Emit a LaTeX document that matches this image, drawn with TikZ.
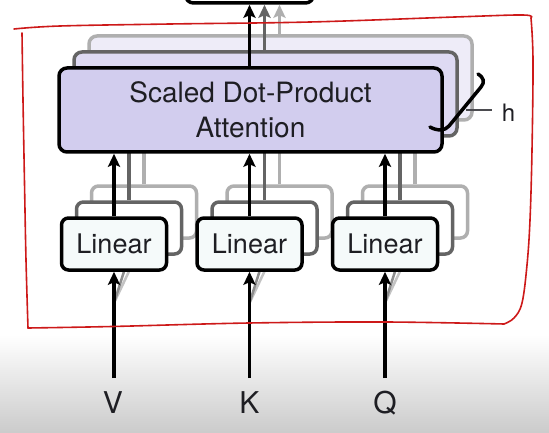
\documentclass[tikz,border=0pt]{standalone}
\usepackage{fontspec}
\setmainfont{TeX Gyre Heros}
\usetikzlibrary{arrows.meta,calc}
\definecolor{lav}{RGB}{210,205,238}
\definecolor{lavA}{RGB}{222,218,243}
\definecolor{lavB}{RGB}{238,236,248}
\definecolor{shA}{RGB}{100,100,100}
\definecolor{shB}{RGB}{175,175,175}
\definecolor{diagA}{RGB}{140,140,140}
\definecolor{diagB}{RGB}{195,195,195}
\definecolor{linfill}{RGB}{245,250,250}
\definecolor{redpen}{RGB}{205,25,25}
\definecolor{ink}{RGB}{30,30,35}
\definecolor{bggray}{RGB}{203,203,203}
\begin{document}
\begin{tikzpicture}[x=1pt,y=-1pt,
  box/.style={draw, line width=3.5pt, inner sep=0pt, text=ink},
  attbox/.style={box, rounded corners=8pt, minimum width=383pt, minimum height=84pt,
     align=center, font=\fontsize{28pt}{35pt}\selectfont},
  linbox/.style={box, rounded corners=7pt, minimum width=105pt, minimum height=52pt,
     font=\fontsize{27pt}{32pt}\selectfont},
  arr/.style={line width=3.5pt, -{Stealth[length=13pt,width=12pt,inset=2.5pt]}},
  lbl/.style={anchor=base, inner sep=0pt, text=ink, font=\fontsize{30pt}{36pt}\selectfont},
  pen/.style={redpen, line width=1.6pt, line cap=round, line join=round}]
\useasboundingbox (0,0) rectangle (549,433);
\fill[white] (0,0) rectangle (549,433);
\shade[top color=white, bottom color=bggray] (0,335) rectangle (549,433);

% output box (cut off at top)
\node[box, rounded corners=8pt, fill=white, minimum width=128pt, minimum height=40pt] (out) at (249.5,-17) {};

% input split points
\coordinate (vs) at (114,303);
\coordinate (ks) at (249.5,303);
\coordinate (qs) at (385,303);

% shadow layers (heads)
\foreach \k/\sc/\af/\dc in {2/shB/lavB/diagB,1/shA/lavA/diagA}{
  \node[attbox, draw=\sc, fill=\af] (att\k) at (250.5+15*\k, 110-16*\k) {};
  \foreach \n/\x in {v/114,k/249.5,q/385}{
    \node[linbox, draw=\sc, fill=white] (l\n\k) at (\x+15*\k, 244-16*\k) {};
  }
  \foreach \n in {v,k,q}{
    \draw[line width=2.5pt, \dc] (\n s) -- (l\n\k.south);
    \draw[arr, \sc] (l\n\k.north) -- (l\n\k.north |- att\k.south);
  }
  \draw[arr, \sc] (lk\k.north |- att\k.north) -- (lk\k.north |- out.south);
}

% main layer
\node[attbox, fill=lav] (att0) at (250.5,110) {Scaled Dot-Product\\Attention};
\node[linbox, fill=linfill] (lv0) at (114,244) {Linear};
\node[linbox, fill=linfill] (lk0) at (249.5,244) {Linear};
\node[linbox, fill=linfill] (lq0) at (385,244) {Linear};

\draw[arr] (lv0.north) -- (lv0.north |- att0.south);
\draw[arr] (lk0.north) -- (lk0.north |- att0.south);
\draw[arr] (lq0.north) -- (lq0.north |- att0.south);
\draw[arr] (lk0.north |- att0.north) -- (out.south);

% inputs
\node[lbl] (V) at (113,413) {V};
\node[lbl] (K) at (249.5,413) {K};
\node[lbl] (Q) at (385,413) {Q};
\coordinate (vin) at (114,378);
\coordinate (kin) at (249.5,378);
\coordinate (qin) at (385,378);
\draw[arr] (vin) -- (lv0.south);
\draw[arr] (kin) -- (lk0.south);
\draw[arr] (qin) -- (lq0.south);

% h bracket
\draw[line width=3.5pt, line cap=round, line join=round]
  (478,74) .. controls (484,78) and (485,82) .. (481,87) -- (449,126)
  .. controls (445,131) and (437,131) .. (430,127);
\node[anchor=base, inner sep=0pt, text=ink, font=\fontsize{24pt}{28pt}\selectfont] (hl) at (508.5,122) {h};
\coordinate (hs) at (466,110);
\draw[line width=1.5pt, ink!80] (hs) -- ($(hs -| hl.west)+(-10,0)$);

% red hand-drawn enclosure
\draw[pen] plot[smooth, tension=0.6] coordinates {(14,29) (60,26) (170,24) (310,22) (455,17) (523,15) (531,18)};
\draw[pen] plot[smooth, tension=0.6] coordinates {(531,18) (533,60) (532,150) (530,220) (527,265) (522,303) (514,318) (504,324)};
\draw[pen] plot[smooth, tension=0.6] coordinates {(504,324) (385,322) (249,323) (112,326.5) (28,328)};
\draw[pen] plot[smooth, tension=0.6] coordinates {(28,328) (26,260) (24.5,183) (23,100) (22,33)};
\end{tikzpicture}
\end{document}
